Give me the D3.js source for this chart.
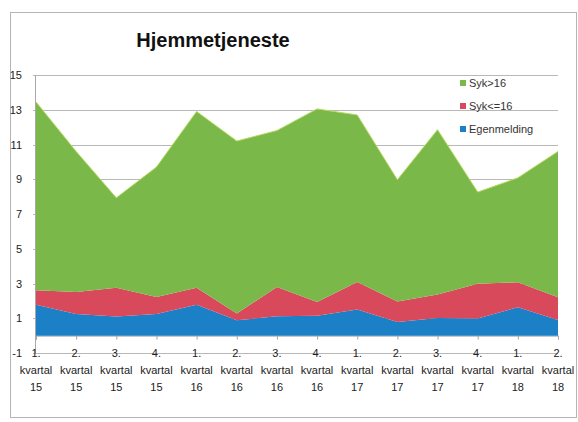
<!DOCTYPE html>
<html>
<head>
<meta charset="utf-8">
<script src="https://cdn.jsdelivr.net/npm/d3@7"></script>
<style>
    body { margin: 0; background: #fff; }
    text { font-family: "Liberation Sans", Arial, sans-serif; }
</style>
</head>
<body>
<div id="chart"></div>
<script>
// Chart data
var quarters = ["1.", "2.", "3.", "4.", "1.", "2.", "3.", "4.", "1.", "2.", "3.", "4.", "1.", "2."];
var years = ["15", "15", "15", "15", "16", "16", "16", "16", "17", "17", "17", "17", "18", "18"];
var egenmelding = [1.78, 1.25, 1.1, 1.25, 1.78, 0.88, 1.11, 1.15, 1.5, 0.79, 1.02, 0.98, 1.63, 0.9];
var sykUnder16 = [0.83, 1.26, 1.65, 0.98, 0.98, 0.39, 1.69, 0.79, 1.59, 1.18, 1.34, 2.0, 1.44, 1.31];
var sykOver16 = [10.84, 8.09, 5.18, 7.47, 10.14, 9.93, 9.0, 11.11, 9.61, 7.0, 9.49, 5.28, 6.01, 8.39];
var yTicks = [-1, 1, 3, 5, 7, 9, 11, 13, 15];

var seriesNames = ["Egenmelding", "Syk<=16", "Syk>16"];
var colors = { "Egenmelding": "#1c80c6", "Syk<=16": "#d8495c", "Syk>16": "#7bb84a" };

// SVG area
var svgWidth = 578;
var svgHeight = 422;

var svg = d3.select("#chart")
    .append("svg")
    .attr("width", svgWidth)
    .attr("height", svgHeight);

// outer frame
svg.append("rect")
    .attr("x", 10.5)
    .attr("y", 12.5)
    .attr("width", 566)
    .attr("height", 405)
    .attr("fill", "none")
    .attr("stroke", "#b5b5b5");

// title
svg.append("text")
    .attr("x", 213)
    .attr("y", 47)
    .attr("text-anchor", "middle")
    .attr("font-size", "20px")
    .attr("font-weight", "bold")
    .attr("fill", "#111")
    .text("Hjemmetjeneste");

// build rows for the stack
var rows = quarters.map(function(q, i) {
    return { i: i, "Egenmelding": egenmelding[i], "Syk<=16": sykUnder16[i], "Syk>16": sykOver16[i] };
});

var stacked = d3.stack().keys(seriesNames)(rows);

// scales
var xScale = d3.scalePoint()
    .domain(d3.range(quarters.length))
    .range([36, 558]);

var yScale = d3.scaleLinear()
    .domain([-1, 15])
    .range([353, 75]);

// gridlines
svg.append("g")
    .selectAll("line")
    .data(yTicks)
    .enter()
    .append("line")
    .attr("x1", 33)
    .attr("x2", 558)
    .attr("y1", d => Math.round(yScale(d)) + 0.5)
    .attr("y2", d => Math.round(yScale(d)) + 0.5)
    .attr("stroke", "#b8b8b8")
    .attr("stroke-width", 1);

// y axis line
svg.append("line")
    .attr("x1", 35.5)
    .attr("x2", 35.5)
    .attr("y1", yScale(15))
    .attr("y2", yScale(-1))
    .attr("stroke", "#a8a8a8");

// y tick labels
svg.append("g")
    .selectAll("text")
    .data(yTicks)
    .enter()
    .append("text")
    .attr("x", 22)
    .attr("y", d => yScale(d) + 4)
    .attr("text-anchor", "end")
    .attr("font-size", "11px")
    .attr("fill", "#222")
    .text(d => d);

// category axis at zero with small ticks
var xAxis = d3.axisBottom(xScale)
    .tickSize(4)
    .tickFormat("");

var xAxisGroup = svg.append("g")
    .attr("transform", `translate(0, ${yScale(0)})`)
    .call(xAxis);
xAxisGroup.select(".domain").attr("stroke", "#a8a8a8");
xAxisGroup.selectAll(".tick line").attr("stroke", "#a8a8a8");

// stacked areas
var area = d3.area()
    .x(d => xScale(d.data.i))
    .y0(d => yScale(d[0]))
    .y1(d => yScale(d[1]));

svg.append("g")
    .selectAll("path")
    .data(stacked)
    .enter()
    .append("path")
    .attr("d", area)
    .attr("fill", d => colors[d.key]);

// light edge along the top of the green area
var topLine = d3.line()
    .x(d => xScale(d.data.i))
    .y(d => yScale(d[1]));

svg.append("path")
    .datum(stacked[2])
    .attr("d", topLine)
    .attr("fill", "none")
    .attr("stroke", "#b7d960")
    .attr("stroke-width", 1);

// category labels (three lines)
var labels = svg.append("g")
    .selectAll("text")
    .data(quarters)
    .enter()
    .append("text")
    .attr("text-anchor", "middle")
    .attr("font-size", "11px")
    .attr("fill", "#222");

labels.append("tspan")
    .attr("x", (d, i) => xScale(i))
    .attr("y", 357)
    .text(d => d);
labels.append("tspan")
    .attr("x", (d, i) => xScale(i))
    .attr("y", 374)
    .text("kvartal");
labels.append("tspan")
    .attr("x", (d, i) => xScale(i))
    .attr("y", 391)
    .text((d, i) => years[i]);

// legend
var legendItems = ["Syk>16", "Syk<=16", "Egenmelding"];
var legend = svg.append("g")
    .selectAll("g")
    .data(legendItems)
    .enter()
    .append("g")
    .attr("transform", (d, i) => `translate(460, ${83 + i * 23})`);

legend.append("rect")
    .attr("x", 0)
    .attr("y", -3)
    .attr("width", 6)
    .attr("height", 6)
    .attr("fill", d => colors[d]);

legend.append("text")
    .attr("x", 9)
    .attr("y", 4)
    .attr("font-size", "11px")
    .attr("fill", "#333")
    .text(d => d);
</script>
</body>
</html>
